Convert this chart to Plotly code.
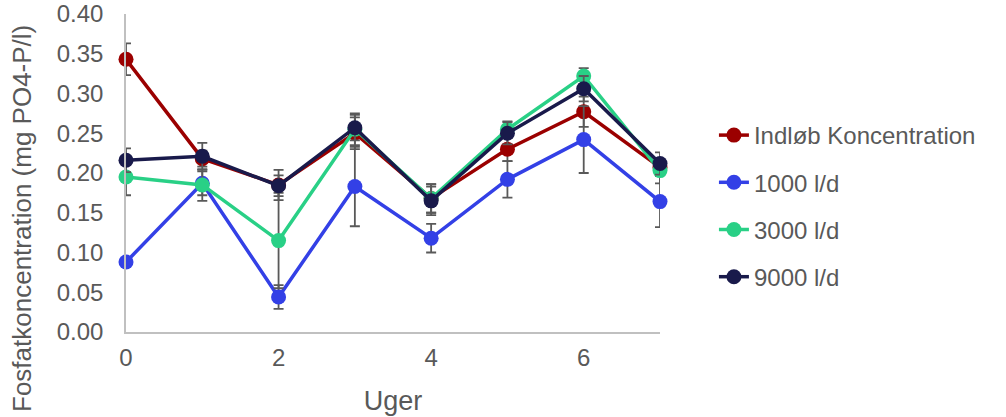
import plotly.graph_objects as go

weeks = [0, 1, 2, 3, 4, 5, 6, 7]
series_names = ["Indløb Koncentration", "1000 l/d", "3000 l/d", "9000 l/d"]
inflow = [0.343, 0.218, 0.185, 0.250, 0.168, 0.230, 0.277, 0.207]
inflow_err = [0.020, 0.010, 0.019, 0.020, 0.018, 0.015, 0.019, 0.010]
q1000 = [0.088, 0.187, 0.044, 0.183, 0.118, 0.192, 0.242, 0.164]
q1000_err = [0.004, 0.015, 0.015, 0.050, 0.018, 0.023, 0.042, 0.032]
q3000 = [0.195, 0.185, 0.115, 0.255, 0.168, 0.255, 0.322, 0.203]
q3000_err = [0.023, 0.020, 0.060, 0.020, 0.018, 0.010, 0.010, 0.016]
q9000 = [0.216, 0.221, 0.184, 0.257, 0.165, 0.250, 0.306, 0.212]
q9000_err = [0.015, 0.017, 0.013, 0.016, 0.018, 0.014, 0.016, 0.014]
colors = ["#9b0000", "#3340e6", "#29d086", "#191a4b"]

FONT = "Liberation Sans, Arial, sans-serif"
GRAY = "#595959"

fig = go.Figure()
for i, (name, vals, errs) in enumerate(zip(series_names,
                                           [inflow, q1000, q3000, q9000],
                                           [inflow_err, q1000_err, q3000_err, q9000_err])):
    fig.add_trace(go.Scatter(
        x=weeks, y=vals, name=name, mode="lines+markers",
        line=dict(color=colors[i], width=3.5),
        marker=dict(color=colors[i], size=15),
        error_y=dict(type="data", array=errs, visible=True, color=GRAY,
                     thickness=1.8, width=5),
        cliponaxis=False, legendgroup=name,
    ))

PLOT_H = 318
fig.update_layout(
    width=1006, height=417,
    margin=dict(l=126, r=346, t=14, b=85, autoexpand=False),
    paper_bgcolor="white", plot_bgcolor="white",
    font=dict(family=FONT, size=24, color=GRAY),
    showlegend=True,
    legend=dict(x=1.101, xanchor="left", y=(332 - 206) / PLOT_H, yanchor="middle",
                font=dict(size=24, color=GRAY), tracegroupgap=13,
                bgcolor="rgba(0,0,0,0)"),
    xaxis=dict(range=[0, 7], tickvals=[0, 2, 4, 6], showgrid=False,
               showline=True, linecolor="#c0c0c0", linewidth=1.5,
               zeroline=False, ticks="", automargin=False,
               ticklabelstandoff=3, ticklabeloverflow="allow",
               tickfont=dict(size=24, color=GRAY),
               title=dict(text="Uger", font=dict(size=27, color=GRAY), standoff=22)),
    yaxis=dict(range=[0, 0.40], dtick=0.05, tickformat=".2f", showgrid=False,
               showline=True, linecolor="#c0c0c0", linewidth=1.5,
               zeroline=False, ticks="", automargin=False,
               ticklabelstandoff=16, ticklabeloverflow="allow",
               tickfont=dict(size=24, color=GRAY)),
)
fig.add_annotation(
    text="Fosfatkoncentration (mg PO4-P/l)", textangle=-90,
    xref="paper", yref="paper", x=(22 - 126) / 534, y=(332 - 219) / PLOT_H,
    xanchor="center", yanchor="middle", showarrow=False,
    font=dict(size=26, color=GRAY, family=FONT),
)

# remove the default 8px page margin so the figure fills the window exactly
fig.write_html("out.html",
               config={"displayModeBar": False},
               post_script="document.body.style.margin='0px';document.body.style.overflow='hidden';")
